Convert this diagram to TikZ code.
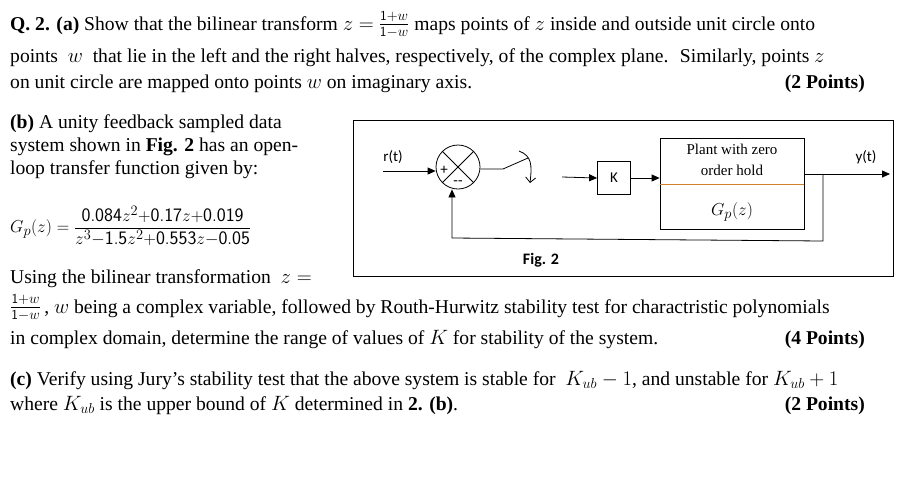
\documentclass[tikz,border=0pt]{standalone}
\usepackage{fontspec}
\setmainfont{Liberation Serif}
\newfontfamily\figfont{Carlito}
\usetikzlibrary{arrows.meta}
\newcommand{\bilin}{\raisebox{1pt}{$\frac{\mathsf{1+}w}{\mathsf{1-}w}$}}
\begin{document}
\begin{tikzpicture}[x=1pt,y=-1pt,
  txt/.style={anchor=base west,inner sep=0pt,font=\fontsize{19.6}{22}\selectfont},
  pts/.style={anchor=base east,inner sep=0pt,font=\fontsize{19.6}{22}\selectfont\bfseries},
  blk/.style={draw,thick,inner sep=0pt},
  lbl/.style={font=\figfont\fontsize{15}{17}\selectfont,inner sep=0pt},
  arr/.style={thick,-{Triangle[length=8pt,width=7pt]}},
  ln/.style={thick}]
\useasboundingbox (0,0) rectangle (917,488);
\fill[white] (0,0) rectangle (917,488);
% text
\node[txt] (l1) at (10,30) {\textbf{Q. 2. (a)} Show that the bilinear transform $z=$ \bilin\ maps points of $z$ inside and outside unit circle onto};
\node[txt] (l2) at (10,62) {points \ $w$ \ that lie in the left and the right halves, respectively, of the complex plane. \ Similarly, points $z$};
\node[txt] (l3) at (10,88) {on unit circle are mapped onto points $w$ on imaginary axis.};
\node[pts] (p1) at (865,88) {(2 Points)};
\node[txt] (b1) at (10,128) {\textbf{(b)} A unity feedback sampled data};
\node[txt] (b2) at (10,151) {system shown in \textbf{Fig. 2} has an open-};
\node[txt] (b3) at (10,174) {loop transfer function given by:};
\node[anchor=west,inner sep=0pt,font=\fontsize{19}{22}\selectfont] (gp) at (10,226) {$G_p(z)={\displaystyle\frac{\mathsf{0.084}z^2\mathsf{+0.17}z\mathsf{+0.019}}{z^3\mathsf{-1.5}z^2\mathsf{+0.553}z\mathsf{-0.05}}}$};
\node[txt] (u1) at (10,283) {Using the bilinear transformation \ $z=$};
\node[txt] (u2) at (10,313) {\bilin\,, $w$ being a complex variable, followed by Routh-Hurwitz stability test for charactristic polynomials};
\node[txt] (u3) at (10,344) {in complex domain, determine the range of values of $K$ for stability of the system.};
\node[pts] (p2) at (865,344) {(4 Points)};
\node[txt] (c1) at (10,385) {\textbf{(c)} Verify using Jury's stability test that the above system is stable for \ $K_{ub}-1$, and unstable for $K_{ub}+1$};
\node[txt] (c2) at (10,410) {where $K_{ub}$ is the upper bound of $K$ determined in \textbf{2. (b)}.};
\node[pts] (p3) at (865,410) {(2 Points)};
% figure
\draw[thick] (353,120) rectangle (893,276);
\node[draw,thick,circle,minimum size=44pt,inner sep=0pt] (sum) at (458,167) {};
\draw[thick] (sum.north west) -- (sum.south east) (sum.north east) -- (sum.south west);
\node[font=\figfont\fontsize{15}{16}\selectfont] at (444,170) {+};
\node[font=\figfont\fontsize{15}{16}\selectfont] at (458,183) {--};
\coordinate (in) at (383,171);
\node[lbl] (rt) at (393,157) {r(t)};
\draw[arr] (in) -- (sum.west |- in);
\coordinate (sw1) at (503,169);
\coordinate (sw2) at (528,158);
\draw[ln] (sum.east |- sw1) -- (sw1) -- (sw2);
\draw[thick,-{Straight Barb[length=5pt]}] (519,151) .. controls (532,156) and (532,165) .. (530,183);
\coordinate (kin) at (562,177);
\node[blk,minimum width=33pt,minimum height=33pt] (K) at (614,178) {\figfont\fontsize{15}{17}\selectfont K};
\draw[arr] (kin) -- (K.west);
\node[draw,thick,minimum width=144pt,minimum height=91pt,inner sep=0pt] (plant) at (732,183.5) {};
\draw[arr] (K.east) -- (plant.west |- K.east);
\draw[draw=brown!70!orange,thick] (plant.west |- 0,184) -- (plant.east |- 0,184);
\node[align=center,font=\fontsize{15}{21}\selectfont,inner sep=0pt] (ptxt) at (732,160) {Plant with zero\\order hold};
\node[font=\fontsize{19}{21}\selectfont,inner sep=0pt] (gpt) at (732,212) {$G_p(z)$};
\coordinate (out) at (890,174);
\coordinate (tap) at (823,174);
\draw[arr] (plant.east |- out) -- (out);
\node[lbl] (yt) at (866,157) {y(t)};
\draw[arr] (tap) -- (823,241) -- (452,238) -- (sum.south -| 452,0);
\node[font=\figfont\bfseries\fontsize{16}{18}\selectfont,inner sep=0pt] (fig) at (541,260) {Fig. 2};
\end{tikzpicture}
\end{document}
